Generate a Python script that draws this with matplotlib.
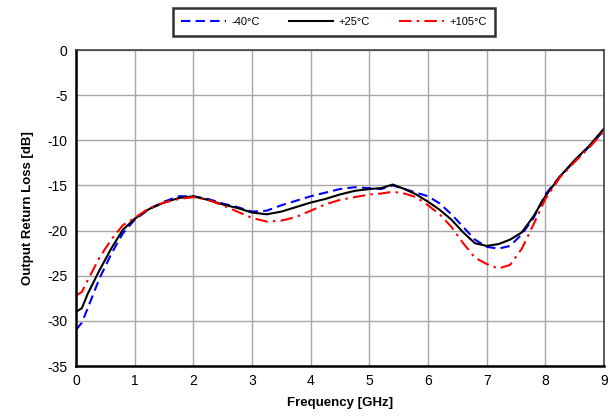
import matplotlib
matplotlib.use("Agg")
import matplotlib.pyplot as plt

# frequency points [GHz]
freq = [0, 0.1, 0.2, 0.4, 0.6, 0.8, 1.0, 1.25, 1.5, 1.75,
        2.0, 2.25, 2.5, 2.75, 3.0, 3.25, 3.5, 3.75, 4.0, 4.25,
        4.5, 4.75, 5.0, 5.2, 5.4, 5.6, 5.8, 6.0, 6.2, 6.4,
        6.6, 6.8, 7.0, 7.2, 7.4, 7.6, 7.8, 8.0, 8.25, 8.5,
        8.75, 9.0]

# output return loss [dB]
rl_m40 = [-31.0, -30.2, -28.6, -25.3, -22.6, -20.3, -18.8, -17.6, -16.8, -16.2,
          -16.2, -16.5, -17.0, -17.4, -17.9, -17.8, -17.2, -16.7, -16.2, -15.8,
          -15.4, -15.2, -15.3, -15.4, -15.0, -15.4, -15.8, -16.2, -17.0, -18.2,
          -19.6, -21.0, -21.8, -22.0, -21.7, -20.4, -18.6, -16.0, -14.0, -12.3,
          -10.7, -8.9]
rl_25 = [-29.0, -28.6, -27.0, -24.4, -22.0, -19.9, -18.7, -17.6, -16.9, -16.4,
         -16.2, -16.6, -17.1, -17.5, -18.0, -18.2, -17.9, -17.4, -16.9, -16.5,
         -16.0, -15.6, -15.4, -15.3, -14.9, -15.4, -16.0, -16.8, -17.7, -18.8,
         -20.2, -21.4, -21.7, -21.5, -21.0, -20.2, -18.4, -16.2, -14.0, -12.2,
         -10.6, -8.7]
rl_105 = [-27.2, -26.8, -25.5, -23.0, -21.0, -19.4, -18.6, -17.5, -16.9, -16.5,
          -16.3, -16.6, -17.2, -17.9, -18.6, -19.0, -18.9, -18.5, -17.8, -17.1,
          -16.6, -16.3, -16.0, -15.9, -15.7, -15.9, -16.3, -17.2, -18.2, -19.6,
          -21.4, -23.0, -23.7, -24.2, -23.8, -22.0, -19.3, -16.5, -14.1, -12.4,
          -10.8, -9.0]

plt.rcParams['font.family'] = ['Liberation Sans', 'DejaVu Sans']
plt.rcParams['axes.unicode_minus'] = False

fig = plt.figure(figsize=(6.15, 4.17), dpi=100)
ax = fig.add_axes([76 / 615, 1 - 366 / 417, 528 / 615, 316 / 417])

ax.plot(freq, rl_m40, color='#0000ff', linestyle=(0, (4.5, 2.5)), lw=1.5, label='-40°C')
ax.plot(freq, rl_25, color='black', linestyle='-', lw=1.5, label='+25°C')
ax.plot(freq, rl_105, color='#ff0000', linestyle=(0, (6, 2.5, 1.2, 2.5)), lw=1.5, label='+105°C')

ax.set_xlim(0, 9)
ax.set_ylim(-35, 0)
ax.set_xticks(range(0, 10))
ax.set_yticks(range(-35, 1, 5))
ax.grid(True, color='#a6a6a6', lw=1)
ax.set_axisbelow(True)
ax.tick_params(length=0, labelsize=10, pad=6)

for side in ['left', 'bottom']:
    ax.spines[side].set_color('black')
    ax.spines[side].set_linewidth(1.8)
for side in ['top', 'right']:
    ax.spines[side].set_color('#404040')
    ax.spines[side].set_linewidth(1.2)

ax.set_xlabel('Frequency [GHz]', fontsize=9.5, fontweight='bold', labelpad=6)
ax.set_ylabel('Output Return Loss [dB]', fontsize=9.5, fontweight='bold', labelpad=10)

leg = fig.legend(loc='center', bbox_to_anchor=(334 / 615, 1 - 22 / 417), ncol=3,
                 fontsize=8, frameon=True, fancybox=False, handlelength=4,
                 columnspacing=2.6, handletextpad=0.5, borderpad=0.8,
                 borderaxespad=0)
leg.get_frame().set_edgecolor('black')
leg.get_frame().set_linewidth(1.8)

fig.savefig('out.png', dpi=100)
